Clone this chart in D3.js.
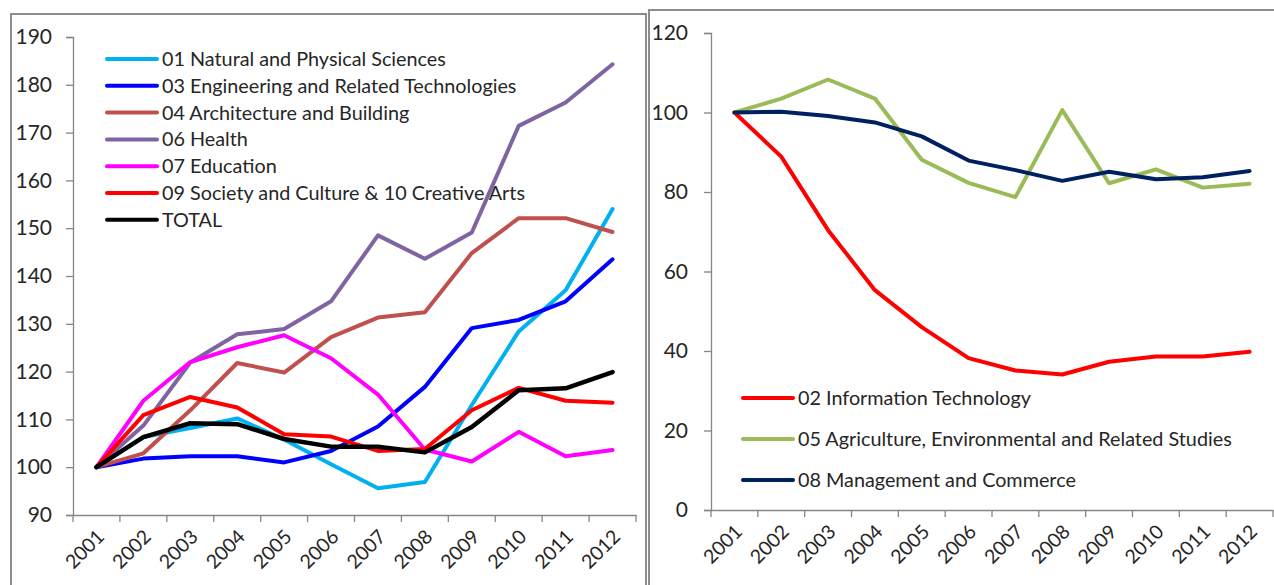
<!DOCTYPE html>
<html>
<head>
<meta charset="utf-8">
<script src="https://cdn.jsdelivr.net/npm/d3@7"></script>
<style>
  body { margin: 0; background: #fff; }
  svg text { font-family: Lato, "Open Sans", sans-serif; fill: #262626; }
</style>
</head>
<body>
<svg width="1274" height="585"></svg>
<script>
// years shared by both panels
let years = ['2001', '2002', '2003', '2004', '2005', '2006',
             '2007', '2008', '2009', '2010', '2011', '2012'];

// left panel series (index, 2001 = 100)
let natural      = [100, 106.3, 108.2, 110.2, 105.8, 100.6, 95.6, 96.9, 113, 128.4, 137, 154];
let engineering  = [100, 101.8, 102.3, 102.3, 101, 103.4, 108.5, 116.8, 129.1, 130.8, 134.7, 143.5];
let architecture = [100, 102.9, 111.9, 121.8, 119.8, 127.2, 131.3, 132.4, 144.8, 152.1, 152.1, 149.2];
let health       = [100, 108.7, 121.9, 127.8, 128.9, 134.7, 148.5, 143.6, 149.1, 171.4, 176.3, 184.3];
let education    = [100, 113.9, 122, 125.1, 127.6, 122.8, 115.2, 103.7, 101.2, 107.4, 102.3, 103.6];
let society      = [100, 110.9, 114.7, 112.5, 106.9, 106.4, 103.4, 103.8, 111.9, 116.6, 113.9, 113.5];
let total        = [100, 106.3, 109.2, 109, 105.9, 104.3, 104.3, 103.1, 108.4, 116.1, 116.5, 119.9];

// right panel series
let infoTech     = [100, 88.9, 70.4, 55.3, 46, 38.2, 35.1, 34.1, 37.3, 38.6, 38.6, 39.8];
let agriculture  = [100, 103.5, 108.3, 103.5, 88.1, 82.3, 78.7, 100.6, 82.2, 85.7, 81.1, 82.1];
let management   = [100, 100.2, 99.1, 97.5, 94, 87.9, 85.5, 82.8, 85.1, 83.2, 83.7, 85.3];

let leftNames = ['01 Natural and Physical Sciences', '03 Engineering and Related Technologies',
                 '04 Architecture and Building', '06 Health', '07 Education',
                 '09 Society and Culture & 10 Creative Arts', 'TOTAL'];
let rightNames = ['02 Information Technology', '05 Agriculture, Environmental and Related Studies',
                  '08 Management and Commerce'];

let leftTicks = [90, 100, 110, 120, 130, 140, 150, 160, 170, 180, 190];
let rightTicks = [0, 20, 40, 60, 80, 100, 120];

let leftSeries = [
    {name: leftNames[0], values: natural, color: '#00B0F0', w: 4},
    {name: leftNames[1], values: engineering, color: '#0000FF', w: 4},
    {name: leftNames[2], values: architecture, color: '#C0504D', w: 4},
    {name: leftNames[3], values: health, color: '#8064A2', w: 4},
    {name: leftNames[4], values: education, color: '#FF00FF', w: 4},
    {name: leftNames[5], values: society, color: '#FF0000', w: 4},
    {name: leftNames[6], values: total, color: '#000000', w: 4.5}
];
let rightSeries = [
    {name: rightNames[0], values: infoTech, color: '#FF0000', w: 4},
    {name: rightNames[1], values: agriculture, color: '#9BBB59', w: 4},
    {name: rightNames[2], values: management, color: '#002060', w: 4}
];

let svg = d3.select('svg');

// frames
svg.append('rect').attr('x', 11).attr('y', 14).attr('width', 635).attr('height', 600)
    .attr('fill', 'none').attr('stroke', '#8c8c8c').attr('stroke-width', 2);
svg.append('rect').attr('x', 649).attr('y', 10).attr('width', 640).attr('height', 600)
    .attr('fill', 'none').attr('stroke', '#8c8c8c').attr('stroke-width', 2);

function panel(opts) {
    let x = d3.scaleBand().domain(years).range([opts.x0, opts.x1]);
    let y = d3.scaleLinear().domain(opts.domain).range([opts.yBottom, opts.yTop]);
    let g = svg.append('g');

    // y axis
    let ya = g.append('g').attr('transform', `translate(${opts.x0},0)`)
        .call(d3.axisLeft(y).tickValues(opts.ticks).tickSize(7).tickPadding(opts.pad));
    ya.selectAll('text').style('font-size', '21px').attr('fill', '#262626');

    // x axis: labels centred, tick marks on the band edges
    let xa = g.append('g').attr('transform', `translate(0,${opts.yBottom})`)
        .call(d3.axisBottom(x).tickSize(0).tickPadding(0));
    xa.selectAll('.tick text')
        .style('font-size', '19.5px')
        .attr('fill', '#262626')
        .attr('text-anchor', 'end')
        .attr('dy', null)
        .attr('transform', 'translate(9,23) rotate(-45)');
    let edges = years.map(d => x(d)).concat([opts.x1]);
    xa.selectAll('.edge').data(edges).enter().append('line')
        .attr('class', 'edge')
        .attr('x1', d => d).attr('x2', d => d)
        .attr('y1', 0).attr('y2', 7);
    g.selectAll('.domain, .tick line, .edge').attr('stroke', '#868686').attr('stroke-width', 1.3);

    let line = d3.line()
        .x((d, i) => x(years[i]) + x.bandwidth() / 2)
        .y(d => y(d));

    g.selectAll('.series').data(opts.series).enter().append('path')
        .attr('class', 'series')
        .attr('d', d => line(d.values))
        .attr('fill', 'none')
        .attr('stroke', d => d.color)
        .attr('stroke-width', d => d.w)
        .attr('stroke-linejoin', 'round')
        .attr('stroke-linecap', 'round');

    // legend
    let lg = g.append('g');
    let items = lg.selectAll('g').data(opts.series).enter().append('g')
        .attr('transform', (d, i) => `translate(${opts.legX},${opts.legY + i * opts.legStep})`);
    items.append('line')
        .attr('x1', 0).attr('x2', 50)
        .attr('stroke', d => d.color).attr('stroke-width', 4)
        .attr('stroke-linecap', 'round');
    items.append('text')
        .attr('x', 55).attr('dy', '0.35em')
        .style('font-size', '19.8px')
        .text(d => d.name);
}

panel({
    x0: 73, x1: 636, yTop: 37, yBottom: 515,
    domain: [90, 190], ticks: leftTicks, pad: 14,
    series: leftSeries, legX: 107, legY: 59, legStep: 26.8
});

panel({
    x0: 711, x1: 1273, yTop: 33, yBottom: 510,
    domain: [0, 120], ticks: rightTicks, pad: 16,
    series: rightSeries, legX: 743, legY: 398, legStep: 41
});
</script>
</body>
</html>
